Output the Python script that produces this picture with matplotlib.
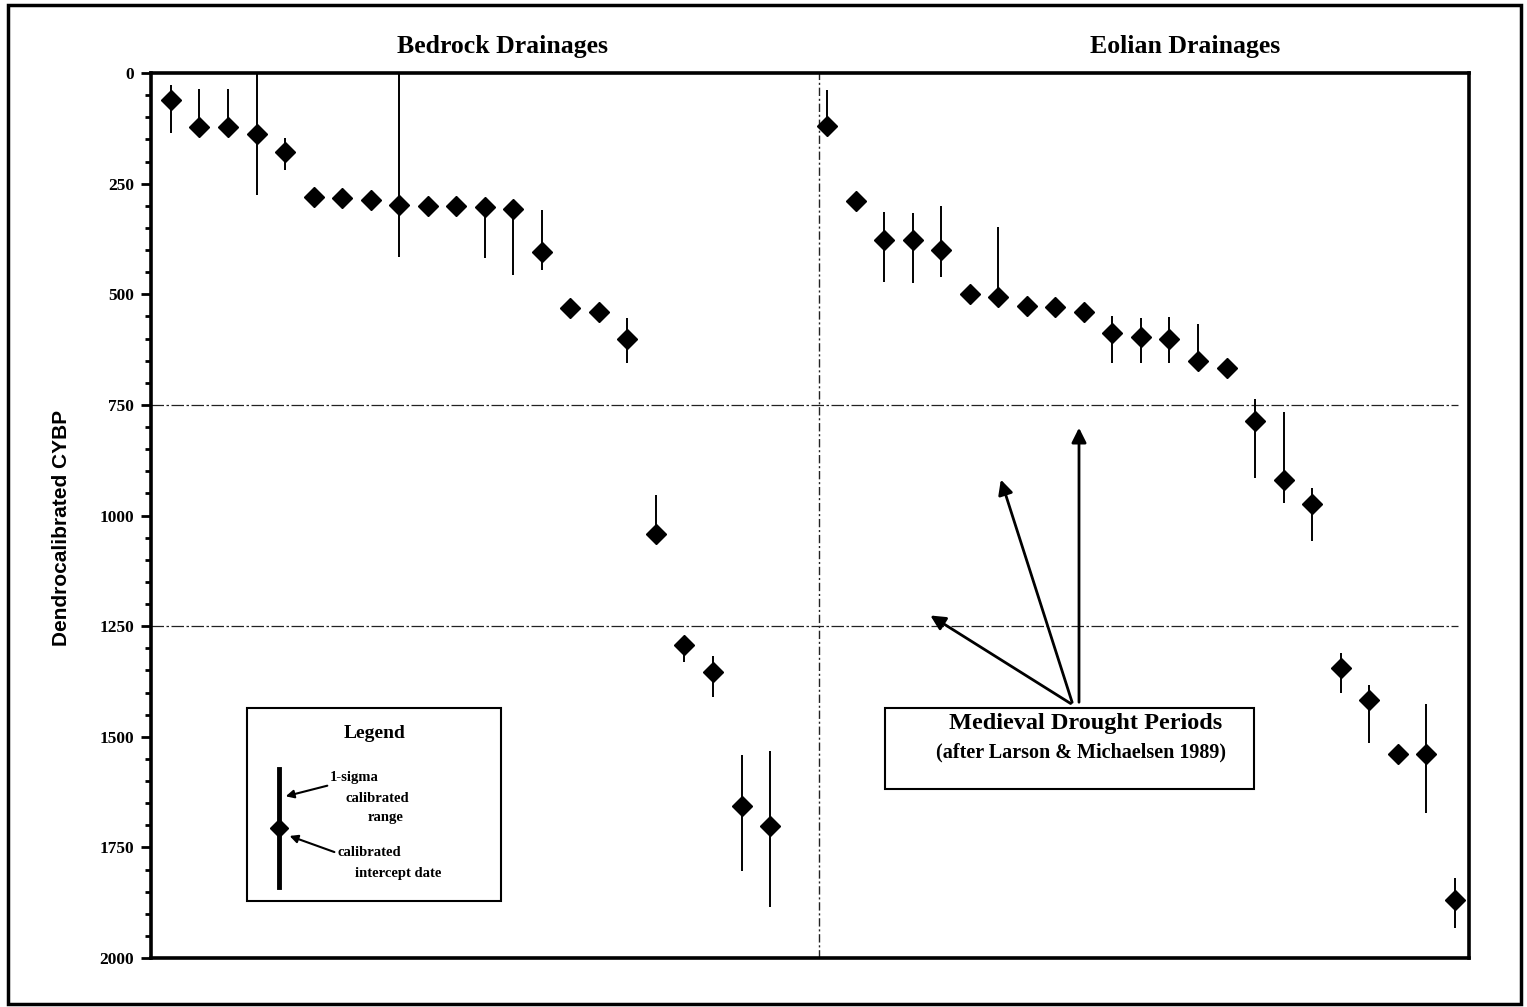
import matplotlib.pyplot as plt
import numpy as np
from matplotlib.patches import Rectangle, FancyArrowPatch
from matplotlib.ticker import MultipleLocator

# dendrocalibrated ages (CYBP) with 1-sigma calibrated ranges
bedrock_age = [61, 122, 122, 138, 179, 280, 283, 287, 298, 300, 300, 302, 307,
               405, 531, 541, 600, 1042, 1293, 1354, 1657, 1702]
bedrock_lo = [27, 36, 36, 0, 147, 280, 283, 287, 0, 300, 300, 302, 307,
              310, 531, 541, 554, 954, 1293, 1318, 1541, 1532]
bedrock_hi = [136, 122, 122, 276, 219, 280, 283, 287, 416, 300, 300, 418, 456,
              445, 531, 541, 656, 1042, 1332, 1410, 1803, 1885]

eolian_age = [120, 289, 377, 377, 400, 499, 506, 527, 529, 540, 588, 596, 601,
              650, 667, 786, 920, 973, 1345, 1417, 1539, 1539, 1869]
eolian_lo = [38, 289, 314, 316, 300, 499, 348, 527, 529, 540, 549, 553, 551,
             567, 667, 737, 766, 937, 1311, 1383, 1539, 1426, 1819]
eolian_hi = [120, 289, 473, 475, 461, 499, 506, 527, 529, 540, 655, 655, 655,
             650, 667, 915, 972, 1058, 1400, 1514, 1539, 1672, 1932]

drought_lines = [750, 1250]
panel_titles = ['Bedrock Drainages', 'Eolian Drainages']

W, H = 1527, 1007
serif = 'Liberation Serif'


def fx(px):
    return px / W


def fy(py):
    return 1 - py / H


fig = plt.figure(figsize=(W / 100, H / 100), dpi=100)
ax = fig.add_axes([fx(151), fy(958), fx(1469) - fx(151), fy(73) - fy(958)])

x_bed = np.arange(1, len(bedrock_age) + 1)
x_eol = np.arange(len(bedrock_age) + 2, len(bedrock_age) + 2 + len(eolian_age))

for xs, age, lo, hi in [(x_bed, bedrock_age, bedrock_lo, bedrock_hi),
                        (x_eol, eolian_age, eolian_lo, eolian_hi)]:
    age = np.array(age)
    yerr = [age - np.array(lo), np.array(hi) - age]
    ax.errorbar(xs, age, yerr=yerr, fmt='D', color='black', ms=10,
                elinewidth=1.4, capsize=0, zorder=3)

ax.set_xlim(0.3, 46.5)
ax.set_ylim(2000, 0)

# drought period lines and panel divider
for y in drought_lines:
    ax.plot([0.3, 46.1], [y, y], color='#222222', lw=0.9,
            linestyle=(0, (10, 2, 2, 2)), zorder=1)
ax.axvline(23.7, color='#222222', lw=1.0, linestyle=(0, (6, 2, 1.5, 2)), zorder=1)

ax.yaxis.set_major_locator(MultipleLocator(250))
ax.yaxis.set_minor_locator(MultipleLocator(50))
ax.tick_params(axis='y', which='major', length=7, width=2, direction='out', pad=5)
ax.tick_params(axis='y', which='minor', length=4, width=2, direction='out')
ax.set_xticks([])
for lab in ax.get_yticklabels():
    lab.set_fontfamily(serif)
    lab.set_fontweight('bold')
    lab.set_fontsize(12.5)
for sp in ax.spines.values():
    sp.set_linewidth(2.6)

# y axis label
fig.text(fx(62), fy(528), 'Dendrocalibrated CYBP', rotation=90, ha='center',
         va='center', fontsize=15, fontweight='bold', family='Liberation Sans')

# panel titles
fig.text(fx(503), fy(47), panel_titles[0], ha='center', va='center',
         family=serif, fontweight='bold', fontsize=18.5)
fig.text(fx(1185), fy(47), panel_titles[1], ha='center', va='center',
         family=serif, fontweight='bold', fontsize=18.5)

# legend box
fig.add_artist(Rectangle((fx(247), fy(901)), fx(501) - fx(247), fy(708) - fy(901),
                         transform=fig.transFigure, fill=False, lw=1.5, color='black'))
fig.text(fx(375), fy(733), 'Legend', ha='center', va='center',
         family=serif, fontweight='bold', fontsize=14)
fig.add_artist(plt.Line2D([fx(279), fx(279)], [fy(769), fy(887)],
                          transform=fig.transFigure, color='black', lw=3.5))
fig.add_artist(plt.Line2D([fx(279)], [fy(828)], transform=fig.transFigure,
                          marker='D', ms=9, color='black'))
for txt, px, py in [('1-sigma', 330, 778), ('calibrated', 346, 798),
                    ('range', 368, 818), ('calibrated', 338, 853),
                    ('intercept date', 355, 873)]:
    fig.text(fx(px), fy(py), txt, ha='left', va='center', family=serif,
             fontweight='bold', fontsize=10.5)
for x0, y0, x1, y1 in [(330, 785, 283, 797), (337, 853, 287, 835)]:
    fig.add_artist(FancyArrowPatch((fx(x0), fy(y0)), (fx(x1), fy(y1)),
                                   transform=fig.transFigure, arrowstyle='-|>',
                                   mutation_scale=12, lw=1.5, color='black'))

# medieval drought annotation
fig.add_artist(Rectangle((fx(885), fy(789)), fx(1254) - fx(885), fy(708) - fy(789),
                         transform=fig.transFigure, fill=True, facecolor='white',
                         lw=1.5, edgecolor='black', zorder=4))
fig.text(fx(1086), fy(723), 'Medieval Drought Periods', ha='center', va='center',
         family=serif, fontweight='bold', fontsize=17.5, zorder=5)
fig.text(fx(1081), fy(752), '(after Larson & Michaelsen 1989)', ha='center',
         va='center', family=serif, fontweight='bold', fontsize=14.5, zorder=5)
for x1, y1 in [(928, 614), (1000, 477), (1079, 425)]:
    x0 = 1079 if x1 == 1079 else 1073
    fig.add_artist(FancyArrowPatch((fx(x0), fy(705)), (fx(x1), fy(y1)),
                                   transform=fig.transFigure, arrowstyle='-|>',
                                   mutation_scale=22, lw=2, color='black'))

# outer frame
fig.add_artist(Rectangle((fx(8), fy(1004)), fx(1521) - fx(8), fy(5) - fy(1004),
                         transform=fig.transFigure, fill=False, lw=2.5, color='black'))

fig.savefig('out.png', dpi=100)
